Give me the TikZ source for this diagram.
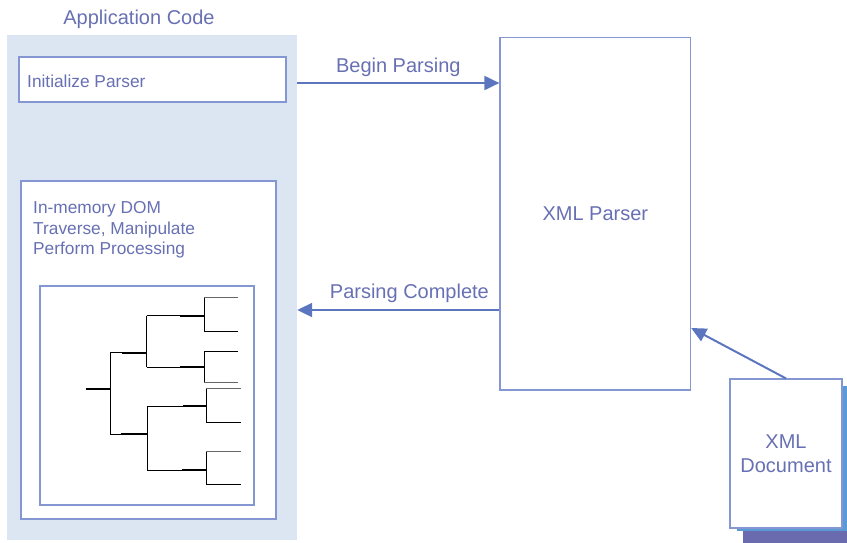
\documentclass[tikz,border=0pt]{standalone}
\usepackage{fontspec}
\setmainfont{Liberation Sans}
\usetikzlibrary{arrows.meta,calc}
\definecolor{txtc}{HTML}{6870B4}
\definecolor{boxc}{HTML}{8497D2}
\definecolor{arrc}{HTML}{5B76BE}
\definecolor{panelc}{HTML}{DCE6F2}
\definecolor{shadowa}{HTML}{5B9BD5}
\definecolor{shadowb}{HTML}{6A6AAE}
\tikzset{
  bigtxt/.style={font=\fontsize{20}{23.5}\selectfont, text=txtc},
  smalltxt/.style={font=\fontsize{17.3}{20.3}\selectfont, text=txtc},
  boxstyle/.style={draw=boxc, line width=1.1pt, fill=white, rectangle, inner sep=0pt},
  flow/.style={draw=arrc, line width=2pt, -{Triangle[length=15pt,width=14pt]}},
  treeline/.style={line width=1pt, black},
  treethick/.style={line width=2pt, black},
}
\begin{document}
\begin{tikzpicture}[x=1pt,y=-1pt]
\useasboundingbox (0,0) rectangle (847,542);
% application panel
\node[fill=panelc, minimum width=290pt, minimum height=505pt, inner sep=0pt] (panel) at (152,287.5) {};
\node[bigtxt, anchor=base] (apptitle) at (139,24.2) {Application Code};
% initialize parser
\node[boxstyle, minimum width=267pt, minimum height=45pt] (init) at (152.5,79.5) {};
\node[smalltxt, anchor=base west, inner sep=0pt] (inittxt) at (27,87.2) {Initialize Parser};
% DOM box
\node[boxstyle, minimum width=255pt, minimum height=338pt] (dom) at (148.5,350) {};
\node[smalltxt, anchor=base west, inner sep=0pt] (dom1) at (33,213.9) {In-memory DOM};
\node[smalltxt, anchor=base west, inner sep=0pt] (dom2) at (33,234.2) {Traverse, Manipulate};
\node[smalltxt, anchor=base west, inner sep=0pt] (dom3) at (33,254.5) {Perform Processing};
% tree box
\node[boxstyle, minimum width=214pt, minimum height=219pt] (tree) at (147,395.5) {};
% tree drawing
\draw[treethick] (85.7,388.7) -- (110,388.7);
\draw[treeline] (110,352.7) -- (110,434);
\draw[treeline] (110,352.7) -- (146.7,352.7);
\draw[treethick] (121.7,352.7) -- (146.7,352.7);
\draw[treeline] (110,434) -- (147.3,434);
\draw[treethick] (120.7,434) -- (147.3,434);
% upper subtree
\draw[treeline] (146.7,315.7) -- (146.7,367.3);
\draw[treeline] (146.7,315.7) -- (204.3,315.7);
\draw[treethick] (180,315.7) -- (204.3,315.7);
\draw[treeline] (146.7,367.3) -- (204.3,367.3);
\draw[treethick] (180,367.3) -- (204.3,367.3);
\draw[treeline] (204.3,297.7) -- (204.3,331.7);
\draw[treeline, black!60] (204.3,297.7) -- (238.3,297.7);
\draw[treeline] (204.3,331.7) -- (238.3,331.7);
\draw[treeline] (204.3,351.7) -- (204.3,382.3);
\draw[treeline] (204.3,351.7) -- (238.3,351.7);
\draw[treeline, black!60] (204.3,382.3) -- (238.3,382.3);
% lower subtree
\draw[treeline] (147.3,406) -- (147.3,470);
\draw[treeline] (147.3,406) -- (206,406);
\draw[line width=1.4pt] (183,406) -- (206,406);
\draw[treeline] (147.3,470) -- (206,470);
\draw[treethick] (181.7,470) -- (206,470);
\draw[treeline] (206,388.3) -- (206,422.3);
\draw[treeline, black!60] (206,388.3) -- (240.7,388.3);
\draw[treeline] (206,422.3) -- (240.7,422.3);
\draw[treeline] (206,451.7) -- (206,484.3);
\draw[treeline, black!60] (206,451.7) -- (240.7,451.7);
\draw[treeline] (206,484.3) -- (240.7,484.3);
% XML parser
\node[boxstyle, minimum width=190.7pt, minimum height=352.3pt, bigtxt] (parser) at (595.3,213.8) {XML Parser};
% XML document stack
\node[fill=shadowb, minimum width=112pt, minimum height=149pt, inner sep=0pt] (docb) at (799,471.5) {};
\node[fill=shadowa, minimum width=111pt, minimum height=145pt, inner sep=0pt] (doca) at (792.5,458.5) {};
\node[boxstyle, minimum width=112pt, minimum height=149pt, bigtxt, align=center] (doc) at (786,453.5) {XML\\Document};
% connectors
\coordinate (bpstart) at ([yshift=-3.5pt]init.east -| panel.east);
\draw[flow] (bpstart) -- (bpstart -| parser.west)
  node[bigtxt, anchor=base, midway, yshift=11pt] (bplabel) {Begin Parsing};
\coordinate (pcstart) at ([yshift=-96.2pt]parser.west);
\draw[flow] (pcstart) -- (pcstart -| panel.east)
  node[bigtxt, anchor=base east, inner sep=0pt, pos=0, xshift=-9.5pt, yshift=12pt] (pclabel) {Parsing Complete};
\coordinate (docend) at ([yshift=-114.2pt]parser.east);
\draw[flow] (doc.north) -- (docend);
\end{tikzpicture}
\end{document}
